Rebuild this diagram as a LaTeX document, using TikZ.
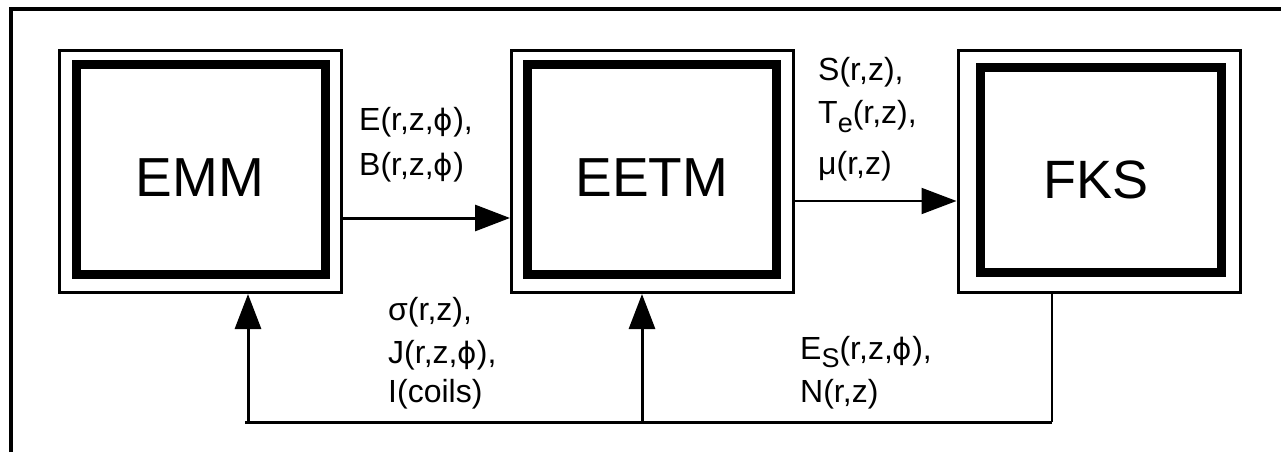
\documentclass[tikz,border=0pt]{standalone}
\usepackage{fontspec}
\setmainfont{Liberation Sans}
\newfontfamily\phifont{DejaVu Sans}[Scale=0.92]
\usetikzlibrary{arrows.meta}
\tikzset{
  outerbox/.style={draw, line width=3pt, rectangle, inner sep=0pt, minimum width=282pt, minimum height=242pt},
  innerbox/.style={draw, line width=9pt, rectangle, inner sep=0pt},
  bigtext/.style={inner sep=0pt, font=\fontsize{55}{60}\selectfont},
  lbl/.style={inner sep=0pt, anchor=base west, font=\fontsize{32}{38}\selectfont},
  arr/.style={-{Triangle[length=35pt,width=26pt]}},
  wire/.style={line width=3pt},
  thinwire/.style={line width=2pt},
}
\newcommand{\subdn}[2][-0.25em]{\raisebox{#1}{\fontsize{27}{30}\selectfont #2}}
\newcommand{\ph}{{\phifont ϕ}}
\begin{document}
\begin{tikzpicture}[x=1pt,y=-1pt]
\useasboundingbox (0,0) rectangle (1281,452);
% frame (cropped)
\draw[line width=3.5pt] (11,452) -- (11,9) -- (1281,9);
% boxes
\node[outerbox] (emm) at (200.5,171.5) {};
\node[innerbox, minimum width=249pt, minimum height=210pt] (emmIn) at (201,169.5) {};
\node[bigtext] (emmT) at (200,178) {EMM};
\node[outerbox] (eetm) at (652.5,171.5) {};
\node[innerbox, minimum width=249pt, minimum height=210pt] (eetmIn) at (652,169.5) {};
\node[bigtext] (eetmT) at (652,178) {EETM};
\node[outerbox] (fks) at (1099,171.5) {};
\node[innerbox, minimum width=241pt, minimum height=205pt] (fksIn) at (1100.5,170) {};
\node[bigtext, font=\fontsize{54}{60}\selectfont] (fksT) at (1096,180) {FKS};
% forward arrows
\draw[arr, wire] (emm.east |- 0,218) -- (eetm.west |- 0,218);
\draw[arr, thinwire] (eetm.east |- 0,201) -- (fks.west |- 0,201);
% feedback
\coordinate (fbR) at (1052,422);
\coordinate (fbL) at (245,422);
\coordinate (fbA) at (248,422);
\coordinate (fbB) at (642,422);
\draw[thinwire] (fks.south -| fbR) -- (fbR);
\draw[wire] (fbR) -- (fbL);
\draw[arr, wire] (fbA) -- (emm.south -| fbA);
\draw[arr, wire] (fbB) -- (eetm.south -| fbB);
% labels
\node[lbl] (l1) at (359,130) {E(r,z,\ph),};
\node[lbl] (l2) at (359,175) {B(r,z,\ph)};
\node[lbl] (l3) at (818,80) {S(r,z),};
\node[lbl] (l4) at (818,123) {T\subdn[-0.3em]{e}(r,z),};
\node[lbl] (l5) at (818,174) {μ(r,z)};
\node[lbl] (l6) at (388,320) {σ(r,z),};
\node[lbl] (l7) at (388,363) {J(r,z,\ph),};
\node[lbl] (l8) at (388,402) {I(coils)};
\node[lbl] (l9) at (800,359) {E\subdn{S}(r,z,\ph),};
\node[lbl] (l10) at (800,402) {N(r,z)};
\end{tikzpicture}
\end{document}
